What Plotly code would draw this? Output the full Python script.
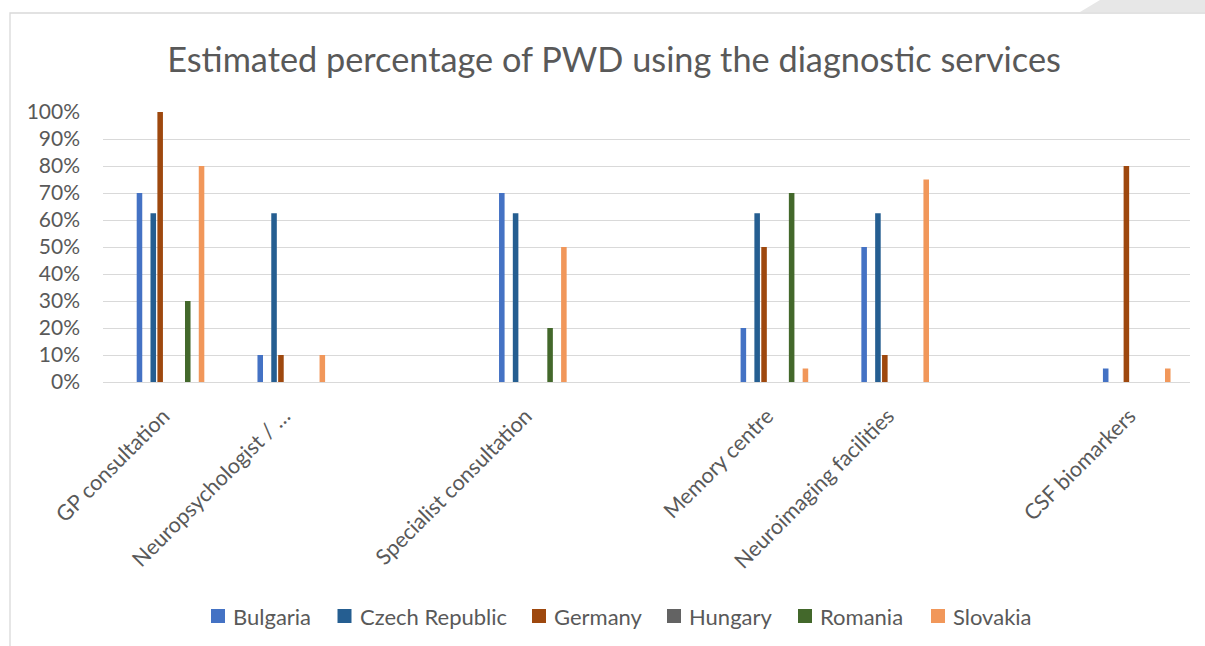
import plotly.graph_objects as go

# Diagnostic services (blank entries are empty category slots on the axis)
categories = [
    "GP consultation",
    "Neuropsychologist / …",
    "",
    "Specialist consultation",
    "",
    "Memory centre",
    "Neuroimaging facilities",
    "",
    "CSF biomarkers",
]

# Estimated share of PWD (%) per country
bulgaria = [70, 10, None, 70, None, 20, 50, None, 5]
czech_republic = [62.5, 62.5, None, 62.5, None, 62.5, 62.5, None, 0]
germany = [100, 10, None, 0, None, 50, 10, None, 80]
hungary = [0, 0, None, 0, None, 0, 0, None, 0]
romania = [30, 0, None, 20, None, 70, 0, None, 0]
slovakia = [80, 10, None, 50, None, 5, 75, None, 5]

countries = ["Bulgaria", "Czech Republic", "Germany", "Hungary", "Romania", "Slovakia"]
series = [bulgaria, czech_republic, germany, hungary, romania, slovakia]
colors = ["#4472C4", "#255E91", "#9E480E", "#636363", "#43682B", "#F1975A"]
# slot of each series inside a category group
slots = [0, 2, 3, 5, 7, 9]

SLOT_STEP = 0.0571
FIRST_SLOT = -0.198
BAR_W = 0.046

FONT = "Lato"
GREY_TEXT = "#595959"
GRID = "#D9D9D9"

W, H = 1205, 646
L, R, T, B = 103, 15, 112, 264
pw = W - L - R
ph = H - T - B


def px(x):
    return (x - L) / pw


def py(y):
    return (H - B - y) / ph


fig = go.Figure()
x_idx = list(range(len(categories)))
for name, vals, col, slot in zip(countries, series, colors, slots):
    center = FIRST_SLOT + slot * SLOT_STEP
    fig.add_trace(go.Bar(
        name=name,
        showlegend=False,
        x=x_idx,
        y=vals,
        width=BAR_W,
        offset=center - BAR_W / 2,
        marker=dict(color=col, line=dict(width=0)),
    ))

# legend row along the bottom: square key + country name
LEGEND_KEY_X = [211, 337.5, 532, 667, 798, 931]
LEGEND_Y = 616
KEY = 14
legend_shapes = []
legend_notes = []
for name, col, kx in zip(countries, colors, LEGEND_KEY_X):
    legend_shapes.append(dict(
        type="rect", xref="paper", yref="paper",
        x0=px(kx), x1=px(kx + KEY),
        y0=py(LEGEND_Y - KEY / 2), y1=py(LEGEND_Y + KEY / 2),
        line=dict(width=0), fillcolor=col,
    ))
    legend_notes.append(dict(
        text=name, xref="paper", yref="paper",
        x=px(kx + KEY + 6), y=py(LEGEND_Y),
        xanchor="left", yanchor="middle", showarrow=False,
        font=dict(family=FONT, size=22, color=GREY_TEXT),
    ))

fig.update_layout(
    width=W,
    height=H,
    margin=dict(l=L, r=R, t=T, b=B, pad=0),
    paper_bgcolor="white",
    plot_bgcolor="white",
    barmode="overlay",
    showlegend=False,
    font=dict(family=FONT, color=GREY_TEXT),
    title=dict(
        text="Estimated percentage of PWD using the diagnostic services",
        font=dict(family=FONT, size=34.3, color=GREY_TEXT),
        x=614 / W, xanchor="center", xref="container",
        y=1 - 60 / H, yanchor="middle", yref="container",
    ),
    xaxis=dict(
        range=[-0.5, len(categories) - 0.5],
        tickmode="array",
        tickvals=x_idx,
        ticktext=categories,
        tickangle=-45,
        tickfont=dict(family=FONT, size=21.5, color=GREY_TEXT),
        showgrid=False,
        zeroline=False,
        showline=False,
        ticks="outside",
        ticklen=12,
        tickcolor="rgba(0,0,0,0)",
    ),
    yaxis=dict(
        range=[0, 100],
        dtick=10,
        ticksuffix="%",
        tickfont=dict(family=FONT, size=21, color=GREY_TEXT),
        showgrid=True,
        gridcolor=GRID,
        gridwidth=1.3,
        zeroline=True,
        zerolinecolor=GRID,
        zerolinewidth=1.3,
        showline=False,
        ticks="",
        ticklabelstandoff=22,
    ),
    annotations=legend_notes,
    shapes=[
        # chart frame
        dict(type="rect", xref="paper", yref="paper",
             x0=px(10), x1=px(1230), y0=py(13), y1=py(700),
             line=dict(color=GRID, width=1.3), fillcolor="rgba(0,0,0,0)",
             layer="below"),
        # light grey band in the top-right corner
        dict(type="path", xref="paper", yref="paper",
             path=f"M {px(1080)},{py(12)} L {px(1100)},{py(0)} L {px(1210)},{py(0)} L {px(1210)},{py(12)} Z",
             line=dict(width=0), fillcolor="#E7E7E7", layer="below"),
    ] + legend_shapes,
)

fig.write_html("out.html")
